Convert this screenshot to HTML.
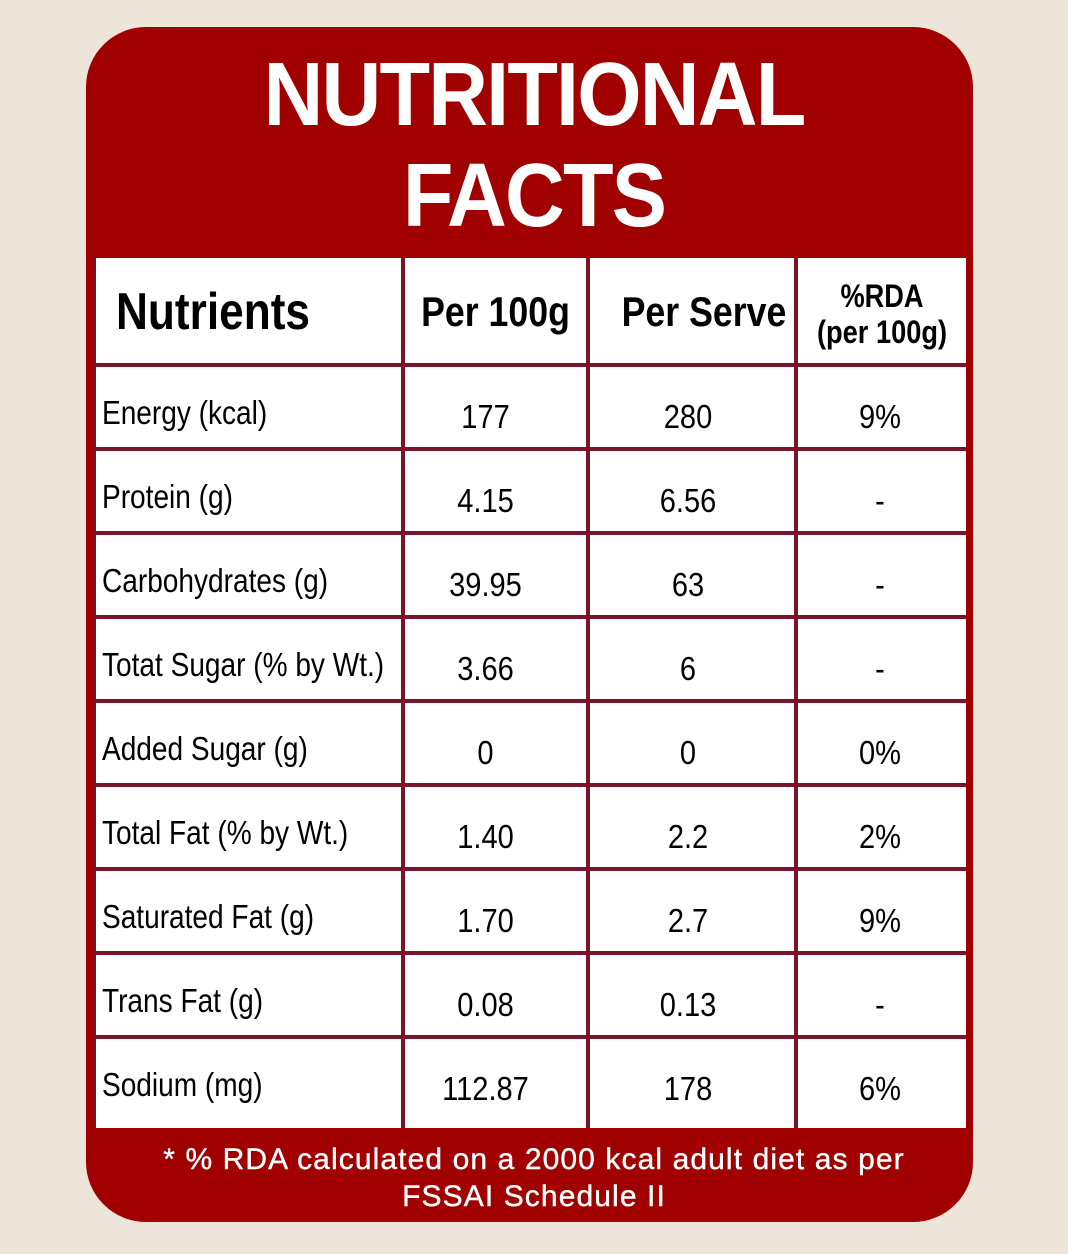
<!DOCTYPE html>
<html><head><style>
*{margin:0;padding:0;box-sizing:border-box}
body{width:1068px;height:1254px;background:#ede5da;position:relative;overflow:hidden;font-family:"Liberation Sans",sans-serif}
.card{position:absolute;left:86px;top:27px;width:887px;height:1195px;background:#a00000;border-radius:60px}
.title{position:absolute;left:0;width:1068px;text-align:center;color:#fff;font-weight:bold;font-size:90px;line-height:100px;letter-spacing:-2px;transform:scaleX(0.92)}
.tbl{position:absolute;left:94px;top:258px;width:872px;height:870px;background:#fff}
.v{position:absolute;top:258px;height:870px;width:4px;background:#7a1428}
.h{position:absolute;left:94px;width:872px;height:4px;background:#7a1428}
.t{position:absolute;color:#000;font-size:33px;white-space:nowrap}
.l{transform:scaleX(0.85);transform-origin:left center}
.c{text-align:center;transform:scaleX(0.88)}
.foot{position:absolute;left:0;width:1068px;text-align:center;color:#fff;font-size:30px;letter-spacing:1.1px;line-height:37px;top:1141px;-webkit-text-stroke:0.4px #fff}
</style></head><body>
<div class="card"></div>
<div class="title" style="top:45px">NUTRITIONAL</div>
<div class="title" style="top:146px">FACTS</div>
<div class="tbl"></div>
<div class="v" style="left:94px;width:2px"></div>
<div class="v" style="left:401px"></div>
<div class="v" style="left:586px"></div>
<div class="v" style="left:794px"></div>
<div class="h" style="top:363px"></div>
<div class="h" style="top:447px"></div>
<div class="h" style="top:531px"></div>
<div class="h" style="top:615px"></div>
<div class="h" style="top:699px"></div>
<div class="h" style="top:783px"></div>
<div class="h" style="top:867px"></div>
<div class="h" style="top:951px"></div>
<div class="h" style="top:1035px"></div>
<div class="t l" style="left:116px;top:282px;font-size:52px;font-weight:bold">Nutrients</div>
<div class="t c" style="left:405px;width:181px;top:288px;font-size:42px;font-weight:bold;transform:scaleX(0.85)">Per 100g</div>
<div class="t c" style="left:602px;width:204px;top:288px;font-size:42px;font-weight:bold;transform:scaleX(0.85)">Per Serve</div>
<div class="t c" style="left:798px;width:168px;top:278px;font-size:32px;line-height:36px;font-weight:bold;transform:scaleX(0.85)">%RDA<br>(per 100g)</div>
<div id="rows"></div>
<div class="foot">* % RDA calculated on a 2000 kcal adult diet as per<br>FSSAI Schedule II</div>
<script>
var d=[["Energy (kcal)","177","280","9%"],["Protein (g)","4.15","6.56","-"],["Carbohydrates (g)","39.95","63","-"],["Totat Sugar (% by Wt.)","3.66","6","-"],["Added Sugar (g)","0","0","0%"],["Total Fat (% by Wt.)","1.40","2.2","2%"],["Saturated Fat (g)","1.70","2.7","9%"],["Trans Fat (g)","0.08","0.13","-"],["Sodium (mg)","112.87","178","6%"]];
var h="";d.forEach(function(r,i){var y=367+i*84;
h+='<div class="t l" style="left:102px;top:'+(y+27)+'px">'+r[0]+'</div>';
h+='<div class="t c" style="left:395px;width:181px;top:'+(y+31)+'px">'+r[1]+'</div>';
h+='<div class="t c" style="left:586px;width:204px;top:'+(y+31)+'px">'+r[2]+'</div>';
h+='<div class="t c" style="left:796px;width:168px;top:'+(y+31)+'px">'+r[3]+'</div>';});
document.getElementById("rows").innerHTML=h;
</script>
</body></html>
